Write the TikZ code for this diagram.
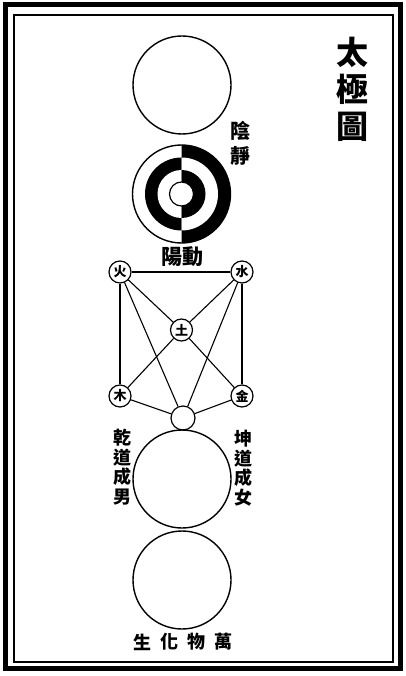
\documentclass[tikz,border=0pt]{standalone}
\usepackage{fontspec}
\newfontfamily\cjk{Noto Sans CJK TC}
\tikzset{
  elem/.style={circle, draw, line width=1.2pt, fill=white, minimum size=22pt, inner sep=0pt, font=\cjk\bfseries\fontsize{13}{13}\selectfont},
  orb/.style={circle, draw, line width=1.4pt, minimum size=98pt, inner sep=0pt},
  lbl/.style={align=center, inner sep=0pt, font=\cjk\bfseries\fontsize{19}{20}\selectfont},
}
\begin{document}
\begin{tikzpicture}[x=1pt, y=-1pt]
    \useasboundingbox (0,0) rectangle (406,676);

    % Frame
    \draw[line width=5pt] (5.5,4.5) rectangle (400,668.5);
    \draw[line width=1.5pt] (14,15) rectangle (393,662);

    % Title
    \node[lbl, font=\cjk\bfseries\fontsize{32}{37}\selectfont] (title) at (352,89) {太\\極\\圖};

    % Wuji circle
    \node[orb] (wuji) at (182,85) {};

    % Yin-yang circle
    \coordinate (yy) at (181.5,194);
    \foreach \r/\cl/\cr in {49/white/black, 36.5/black/white, 24/white/black} {
        \fill[\cl] (yy) -- ++(90:\r) arc[start angle=90, end angle=270, radius=\r] -- cycle;
        \fill[\cr] (yy) -- ++(90:\r) arc[start angle=90, end angle=-90, radius=\r] -- cycle;
    }
    \draw[line width=1.4pt] (yy) circle[radius=49];
    \draw[line width=1.2pt, fill=white] (yy) circle[radius=12];
    \node[lbl, font=\cjk\bfseries\fontsize{20}{25}\selectfont] (yin) at (240,143) {陰\\靜};
    \node[lbl, font=\cjk\bfseries\fontsize{21}{21}\selectfont] (yang) at (182,257) {陽動};

    % Five elements
    \node[elem] (fire)  at (120,272) {火};
    \node[elem] (water) at (242,272) {水};
    \node[elem] (earth) at (181.5,330) {土};
    \node[elem] (wood)  at (120,396) {木};
    \node[elem] (metal) at (242,396) {金};
    \node[elem, minimum size=24pt] (join) at (183,418) {};
    \foreach \a/\b in {fire/water, fire/wood, water/metal, fire/earth, water/earth,
                       earth/wood, earth/metal, fire/join, water/join, wood/join, metal/join}
        \draw[line width=1.1pt] (\a) -- (\b);

    % Qian and Kun
    \node[orb] (qiankun) at (182,479) {};
    \node[lbl, font=\cjk\bfseries\fontsize{18}{19.5}\selectfont] (qian) at (122,467) {乾\\道\\成\\男};
    \node[lbl, font=\cjk\bfseries\fontsize{18}{19.5}\selectfont] (kun) at (243,468) {坤\\道\\成\\女};

    % Ten thousand things
    \node[orb] (wanwu) at (182,580) {};
    \foreach \c [count=\i] in {生,化,物,萬}
        \node[lbl, font=\cjk\bfseries\fontsize{18}{18}\selectfont] (w\i) at (142+27*\i-27,642) {\c};
\end{tikzpicture}
\end{document}
